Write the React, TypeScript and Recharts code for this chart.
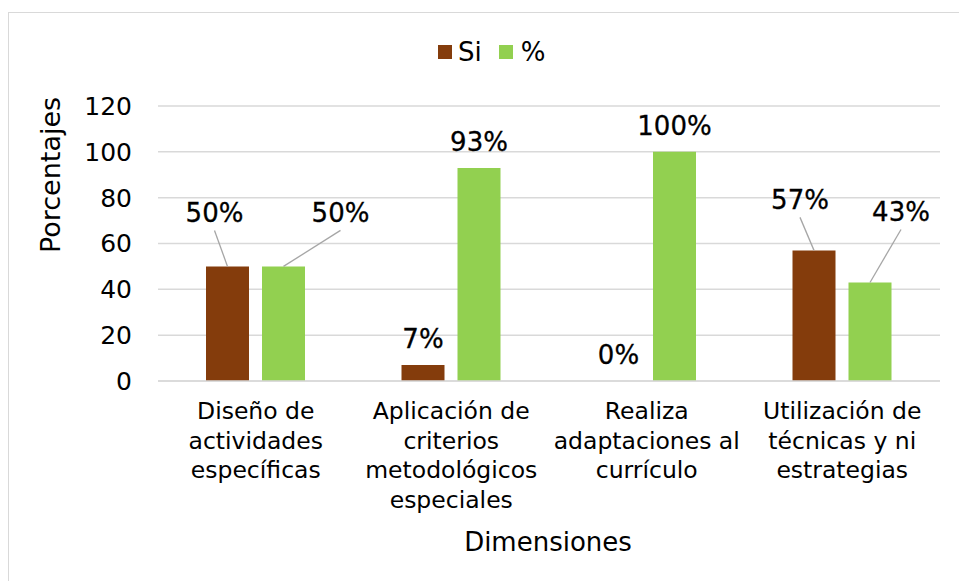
import React from 'react';
import { BarChart, Bar, XAxis, YAxis, CartesianGrid, LabelList } from 'recharts';

const categories = [
  'Diseño de\nactividades\nespecíficas',
  'Aplicación de\ncriterios\nmetodológicos\nespeciales',
  'Realiza\nadaptaciones al\ncurrículo',
  'Utilización de\ntécnicas y ni\nestrategias',
];
const siValues = [50, 7, 0, 57];
const pctValues = [50, 93, 100, 43];
const yTicks = [0, 20, 40, 60, 80, 100, 120];

const chartData = categories.map((name, i) => ({ name, si: siValues[i], pct: pctValues[i] }));

const BROWN = '#843C0C';
const GREEN = '#92D050';
const FONT = '"DejaVu Sans", Verdana, sans-serif';

// label nudges for the ones that Excel moved away from the bar (dx, dy from bar top centre)
const siMoved: Record<number, [number, number]> = { 0: [-13, -53], 3: [-14, -50] };
const pctMoved: Record<number, [number, number]> = { 0: [57, -53], 3: [31, -70] };

const makeLabel = (moved: Record<number, [number, number]>) => (props: any) => {
  const { x, y, width, value, index } = props;
  const cx = Number(x) + Number(width) / 2;
  const top = Number(y);
  const off = moved[index];
  if (off) {
    const lx = cx + off[0];
    const ly = top + off[1];
    return (
      <g>
        <line x1={lx} y1={ly + 17} x2={cx} y2={top} stroke="#a6a6a6" strokeWidth={1.3} />
        <text x={lx} y={ly} textAnchor="middle" dominantBaseline="central" fontSize={26} fill="#000"
          stroke="#000" strokeWidth={0.3} fontFamily={FONT}>
          {value}%
        </text>
      </g>
    );
  }
  return (
    <text x={cx} y={top - 26} textAnchor="middle" dominantBaseline="central" fontSize={26} fill="#000"
      stroke="#000" strokeWidth={0.3} fontFamily={FONT}>
      {value}%
    </text>
  );
};

const CategoryTick = (props: any) => {
  const { x, y, payload } = props;
  const lines = String(payload.value).split('\n');
  return (
    <g transform={`translate(${x},${y})`}>
      <text textAnchor="middle" fontSize={23.5} fill="#000" fontFamily={FONT}>
        {lines.map((l, i) => (
          <tspan key={i} x={0} dy={i === 0 ? 30 : 29.5}>{l}</tspan>
        ))}
      </text>
    </g>
  );
};

export default function App() {
  return (
    <div style={{ position: 'absolute', left: 0, top: 0, width: 959, height: 581, background: '#fff', overflow: 'hidden' }}>
      <div style={{ position: 'absolute', left: 8, top: 12, width: 1000, height: 700, border: '1px solid #d9d9d9' }} />
      <BarChart
        width={959}
        height={581}
        data={chartData}
        margin={{ top: 106, right: 19, left: 78, bottom: 60 }}
        barSize={43}
        barGap={13}
        style={{ position: 'absolute', left: 0, top: 0 }}
      >
        <CartesianGrid vertical={false} stroke="#d9d9d9" strokeWidth={1.5} />
        <XAxis
          dataKey="name"
          axisLine={{ stroke: '#d9d9d9', strokeWidth: 1.5 }}
          tickLine={false}
          interval={0}
          height={140}
          tick={<CategoryTick />}
        />
        <YAxis
          domain={[0, 120]}
          ticks={yTicks}
          axisLine={false}
          tickLine={false}
          width={80}
          tickMargin={20}
          tick={{ fontSize: 25, fill: '#000', fontFamily: FONT }}
        />
        <Bar
          dataKey="si"
          name="Si"
          fill={BROWN}
          isAnimationActive={false}
          minPointSize={(v: number) => (v === 0 ? 0.01 : 0)}
        >
          <LabelList dataKey="si" content={makeLabel(siMoved)} />
        </Bar>
        <Bar dataKey="pct" name="%" fill={GREEN} isAnimationActive={false}>
          <LabelList dataKey="pct" content={makeLabel(pctMoved)} />
        </Bar>
      </BarChart>
      <div
        style={{
          position: 'absolute',
          left: 438,
          top: 36,
          display: 'flex',
          alignItems: 'center',
          fontFamily: FONT,
          fontSize: 26,
          color: '#000',
          lineHeight: '32px',
        }}
      >
        <span style={{ width: 14, height: 14, background: BROWN, display: 'inline-block', marginRight: 6 }} />
        <span style={{ marginRight: 17 }}>Si</span>
        <span style={{ width: 14, height: 14, background: GREEN, display: 'inline-block', marginRight: 8 }} />
        <span>%</span>
      </div>
      <div
        style={{
          position: 'absolute',
          left: 50,
          top: 175,
          transform: 'translate(-50%, -50%) rotate(-90deg)',
          fontFamily: FONT,
          fontSize: 27,
          whiteSpace: 'nowrap',
          color: '#000',
        }}
      >
        Porcentajes
      </div>
      <div
        style={{
          position: 'absolute',
          left: 548,
          top: 542,
          transform: 'translate(-50%, -50%)',
          fontFamily: FONT,
          fontSize: 26,
          whiteSpace: 'nowrap',
          color: '#000',
        }}
      >
        Dimensiones
      </div>
    </div>
  );
}
